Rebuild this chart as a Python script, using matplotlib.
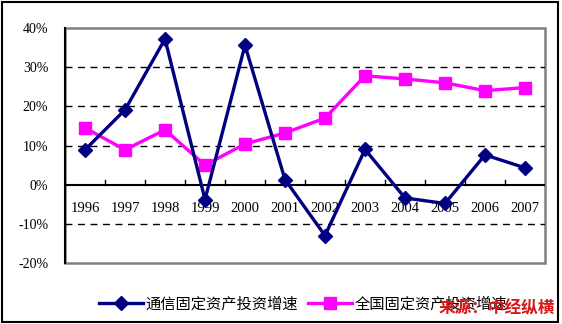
import matplotlib
matplotlib.use("Agg")
import matplotlib.pyplot as plt
from matplotlib.patches import Rectangle
from matplotlib.lines import Line2D

years = ["1996", "1997", "1998", "1999", "2000", "2001",
         "2002", "2003", "2004", "2005", "2006", "2007"]
telecom_growth = [8.9, 19.1, 37.2, -3.8, 35.6, 1.3,
                  -13.0, 9.0, -3.4, -4.8, 7.6, 4.3]
national_growth = [14.5, 8.9, 14.0, 5.0, 10.4, 13.2,
                   17.0, 27.8, 27.0, 26.0, 24.0, 24.8]
y_ticks = [-20, -10, 0, 10, 20, 30, 40]
label_telecom = "通信固定资产投资增速"
label_national = "全国固定资产投资增速"
source_note = "来源：中经纵横"

W, H = 562, 324
fig = plt.figure(figsize=(W / 100, H / 100), dpi=100)
fig.patch.set_facecolor("white")

ax = fig.add_axes([65 / W, 1 - 263 / H, (545 - 65) / W, (263 - 28) / H])
ax.set_xlim(-0.5, len(years) - 0.5)
ax.set_ylim(-20, 40)

serif = ["Liberation Serif", "DejaVu Serif"]
cjk = ["Noto Sans CJK SC", "DejaVu Sans"]

# dashed gridlines
for v in y_ticks:
    if v not in (0, -20, 40):
        ax.axhline(v, color="black", lw=1.0, ls=(0, (5, 4)), zorder=1)

# frame: grey top/right/bottom, black left axis
for s in ("top", "right", "bottom"):
    ax.spines[s].set_visible(False)
ax.add_patch(Rectangle((0, 0), 1, 1, transform=ax.transAxes, fill=False,
                       edgecolor="#808080", lw=1.8, zorder=0.5, clip_on=False))
ax.spines["left"].set_color("black")
ax.spines["left"].set_linewidth(1.5)
ax.spines["left"].set_zorder(3)

# zero axis line with category separators
ax.axhline(0, color="black", lw=1.5, zorder=2)
for i in range(1, len(years)):
    ax.plot([i - 0.5, i - 0.5], [0, 1.3], color="black", lw=1.0, zorder=2)

ax.set_yticks(y_ticks)
ax.set_yticklabels([f"{v}%" for v in y_ticks], fontfamily=serif, fontsize=10)
ax.tick_params(axis="y", length=0, pad=12)
ax.set_xticks([])

for i, yr in enumerate(years):
    ax.text(i, -6, yr, ha="center", va="center", fontfamily=serif,
            fontsize=10.5, zorder=4)

x = list(range(len(years)))
ax.plot(x, national_growth, color="#FF00FF", lw=2.4, marker="s",
        markersize=8.5, zorder=5)
ax.plot(x, telecom_growth, color="#000080", lw=2.4, marker="D",
        markersize=7.5, zorder=6)

handles = [
    Line2D([], [], color="#000080", lw=2.4, marker="D", markersize=7.5),
    Line2D([], [], color="#FF00FF", lw=2.4, marker="s", markersize=8.5),
]
fig.legend(handles, [label_telecom, label_national], loc="center",
           bbox_to_anchor=(303 / W, 1 - 304 / H), ncol=2, frameon=False,
           prop={"family": cjk, "size": 11}, handlelength=2.9,
           columnspacing=0.6, handletextpad=0.2)

fig.text(439 / W, 1 - 308 / H, source_note, color="#D81818", fontsize=12,
         fontweight="bold", style="italic", family=cjk, va="center",
         ha="left", zorder=10)

fig.add_artist(Rectangle((2 / W, 2 / H), 556 / W, 320 / H,
                         transform=fig.transFigure, fill=False,
                         edgecolor="black", lw=1.5))

fig.savefig("out.png", dpi=100)
